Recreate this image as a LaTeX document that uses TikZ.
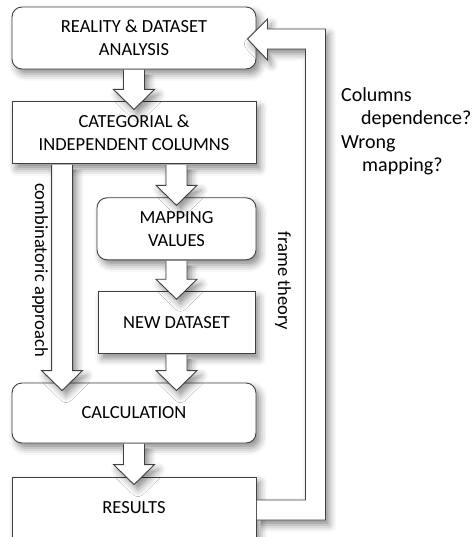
\documentclass[tikz,border=0pt]{standalone}
\usepackage{fontspec}
\setmainfont{Carlito}
\usetikzlibrary{positioning,calc,shadows.blur}
\definecolor{edgegray}{HTML}{404040}

\tikzset{
  softshadow/.style={blur shadow={shadow xshift=4pt, shadow yshift=-5pt, shadow blur radius=7pt, shadow opacity=45}},
  box/.style={draw=edgegray, line width=0.9pt, fill=white, minimum width=244pt, minimum height=62pt, align=center, inner sep=2pt, softshadow},
  roundbox/.style={box, rounded corners=10pt},
  blockarrow/.style={draw=edgegray, line width=0.9pt, fill=white, softshadow}
}

% hollow block arrow from #1 down to the top edge #2
\newcommand{\bigarrow}[2]{%
  \draw[blockarrow] let \p1=#1, \p2=#2 in
    (\x1-10.5pt,\y1-0.5pt) -- (\x1-10.5pt,\y2+12pt) -- (\x1-20.5pt,\y2+12pt)
    -- (\x1,\y2-8pt) -- (\x1+20.5pt,\y2+12pt) -- (\x1+10.5pt,\y2+12pt)
    -- (\x1+10.5pt,\y1-0.5pt);
}

\begin{document}
\begin{tikzpicture}[x=1pt, y=1pt, font=\fontsize{18.5}{23}\selectfont]
    \useasboundingbox (0,0) rectangle (471,-537);

    \node[roundbox] (reality) at (134,-38) {REALITY \& DATASET\\ANALYSIS};
    \node[box, below=32pt of reality] (categorial) {CATEGORIAL \&\\INDEPENDENT COLUMNS};
    \node[roundbox, minimum width=159pt, below=33pt of categorial.south east, anchor=north east] (mapping) {MAPPING\\VALUES};
    \node[box, minimum width=157pt, below=31pt of mapping] (newdata) {NEW DATASET};
    \node[roundbox, minimum height=60pt] (calc) at (134,-413) {CALCULATION};
    \node[box] (results) at (134,-508) {RESULTS};

    \coordinate (combtop) at ([xshift=50.5pt]categorial.south west);

    % feedback loop
    \draw[blockarrow] let \p1=(results.east), \p2=(reality.east) in
        (\x1+0.5pt,\y1+8pt) -- (\x1+49pt,\y1+8pt) -- (\x1+49pt,\y2-11pt)
        -- (\x2+11pt,\y2-11pt) -- (\x2+11pt,\y2-22pt) -- (\x2-9pt,\y2-1pt)
        -- (\x2+11pt,\y2+19pt) -- (\x2+11pt,\y2+9pt) -- (\x1+69pt,\y2+9pt)
        -- (\x1+69pt,\y1-12pt) -- (\x1+0.5pt,\y1-12pt);

    \bigarrow{(reality.south)}{(categorial.north)}
    \bigarrow{(mapping.north |- categorial.south)}{(mapping.north)}
    \bigarrow{(mapping.south)}{(newdata.north)}
    \bigarrow{(newdata.south)}{(newdata.south |- calc.north)}
    \bigarrow{(combtop)}{(combtop |- calc.north)}
    \bigarrow{(calc.south)}{(results.north)}

    \node[rotate=-90] (combinatoric) at (40,-270) {combinatoric approach};
    \node[rotate=-90] (frame) at (283,-281) {frame theory};
    \node[anchor=north west, align=left, inner sep=0pt, font=\fontsize{20}{23.5}\selectfont] (question) at (341,-87)
        {Columns\\\hspace*{20pt}dependence?\\Wrong\\\hspace*{21pt}mapping?};
\end{tikzpicture}
\end{document}
